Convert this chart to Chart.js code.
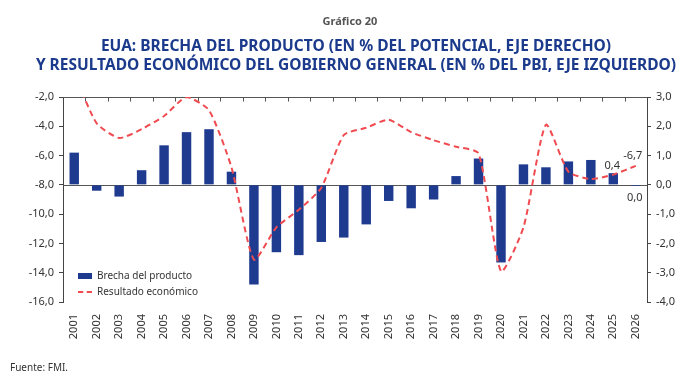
<!DOCTYPE html>
<html>
<head>
<meta charset="utf-8">
<script src="https://cdn.jsdelivr.net/npm/chart.js@4"></script>
<style>
  html, body { margin: 0; padding: 0; background: #fff; }
  #wrap { position: relative; width: 700px; height: 380px; overflow: hidden; }
  #chart { position: absolute; left: 0; top: 0; }
  .t0 { position: absolute; left: 0; width: 700px; top: 13px; text-align: center;
        font: bold 11px "Noto Sans", sans-serif; color: #555; }
  .t1 { position: absolute; left: 6px; width: 700px; text-align: center;
        font: bold 15.5px "Noto Sans", sans-serif; color: #1b3a8c; }
  .legend { position: absolute; left: 78px; font: 10px "Noto Sans", sans-serif; color: #333; }
  .legend span { display: inline-block; vertical-align: middle; margin-right: 5px; }
  .src { position: absolute; left: 10px; top: 360px; font: 10px "Noto Sans", sans-serif; color: #333; }
</style>
</head>
<body>
<div id="wrap">
  <canvas id="chart" width="700" height="380"></canvas>
  <div class="t0">Gráfico 20</div>
  <div class="t1" style="top:34px">EUA: BRECHA DEL PRODUCTO (EN % DEL POTENCIAL, EJE DERECHO)</div>
  <div class="t1" style="top:53px">Y RESULTADO ECONÓMICO DEL GOBIERNO GENERAL (EN % DEL PBI, EJE IZQUIERDO)</div>
  <div class="legend" style="top:268px"><span style="width:14px;height:6px;background:#1e3b8f"></span>Brecha del producto</div>
  <div class="legend" style="top:284px"><span style="width:14px;height:0;border-top:2px dashed #ef4b50"></span>Resultado económico</div>
  <div class="src">Fuente: FMI.</div>
</div>
<script>
const years = ["2001","2002","2003","2004","2005","2006","2007","2008","2009","2010","2011","2012","2013",
               "2014","2015","2016","2017","2018","2019","2020","2021","2022","2023","2024","2025","2026"];
// brecha del producto, % del potencial (eje derecho)
const brecha = [1.1, -0.2, -0.4, 0.5, 1.35, 1.8, 1.9, 0.45, -3.4, -2.3, -2.4, -1.95, -1.8,
                -1.35, -0.55, -0.8, -0.5, 0.3, 0.9, -2.65, 0.7, 0.6, 0.8, 0.85, 0.4, -0.04];
// resultado económico del gobierno general, % del PBI (eje izquierdo)
const resultado = [-0.4, -3.8, -4.8, -4.2, -3.3, -2.0, -2.9, -6.8, -13.1, -10.9, -9.7, -8.2, -4.6,
                   -4.1, -3.55, -4.4, -4.95, -5.4, -5.85, -13.9, -10.9, -3.9, -7.1, -7.6, -7.3, -6.7];
const leftTicks = [-16, -14, -12, -10, -8, -6, -4, -2];
const rightTicks = [-4, -3, -2, -1, 0, 1, 2, 3];

const fmt = v => (Math.round(v * 10) / 10 + 0).toFixed(1).replace(".", ",");

// top border with tick marks, zero line of the right axis, and value labels
const framePlugin = {
  id: "frame",
  beforeDatasetsDraw(chart) {
    const { ctx, chartArea, scales } = chart;
    const y0 = Math.round(scales.y1.getPixelForValue(0)) + 0.5;
    ctx.save();
    ctx.strokeStyle = "#555";
    ctx.lineWidth = 1;
    ctx.beginPath();
    ctx.moveTo(chartArea.left, y0);
    ctx.lineTo(chartArea.right, y0);
    const top = Math.round(chartArea.top) + 0.5;
    ctx.moveTo(chartArea.left, top);
    ctx.lineTo(chartArea.right, top);
    for (let i = 1; i < years.length; i++) {
      const x = Math.round((scales.x.getPixelForValue(i - 1) + scales.x.getPixelForValue(i)) / 2) + 0.5;
      ctx.moveTo(x, top);
      ctx.lineTo(x, top + 4);
    }
    ctx.stroke();
    ctx.restore();
  },
  afterDatasetsDraw(chart) {
    const { ctx } = chart;
    const bars = chart.getDatasetMeta(0).data;
    const line = chart.getDatasetMeta(1).data;
    const n = years.length;
    ctx.save();
    ctx.font = "11px 'Noto Sans', sans-serif";
    ctx.fillStyle = "#333";
    ctx.textAlign = "center";
    ctx.textBaseline = "bottom";
    ctx.fillText(fmt(brecha[n - 2]), bars[n - 2].x - 1, bars[n - 2].y - 2);
    ctx.fillText(fmt(resultado[n - 1]), line[n - 1].x - 3, line[n - 1].y - 4);
    ctx.textBaseline = "top";
    ctx.fillText(fmt(brecha[n - 1]), bars[n - 1].x - 1, bars[n - 1].y + 6);
    ctx.restore();
  }
};

new Chart(document.getElementById("chart"), {
  type: "bar",
  data: {
    labels: years,
    datasets: [
      {
        type: "bar",
        label: "Brecha del producto",
        data: brecha,
        yAxisID: "y1",
        backgroundColor: "#1e3b8f",
        categoryPercentage: 1,
        barPercentage: 0.42,
        order: 2
      },
      {
        type: "line",
        label: "Resultado económico",
        data: resultado,
        yAxisID: "y",
        borderColor: "#ef4b50",
        borderWidth: 2,
        borderDash: [6, 4],
        pointRadius: 0,
        tension: 0.2,
        fill: false,
        order: 1
      }
    ]
  },
  options: {
    responsive: false,
    animation: false,
    layout: { padding: { top: 97, left: 0, right: 0, bottom: 0 } },
    plugins: { legend: { display: false }, title: { display: false }, tooltip: { enabled: false } },
    scales: {
      x: {
        grid: { display: false },
        border: { display: false },
        ticks: {
          color: "#333", font: { family: "Noto Sans", size: 11 },
          minRotation: 90, maxRotation: 90, padding: 4, autoSkip: false
        },
        afterFit(s) { s.height = 78; }
      },
      y: {
        position: "left",
        min: -16, max: -2,
        afterBuildTicks(s) { s.ticks = leftTicks.map(v => ({ value: v })); },
        grid: { drawOnChartArea: false, tickLength: 4, color: "#444" },
        border: { display: true, color: "#444" },
        ticks: { color: "#333", font: { family: "Noto Sans", size: 11 }, padding: 5, callback: v => fmt(v) },
        afterFit(s) { s.width = 63; }
      },
      y1: {
        position: "right",
        min: -4, max: 3,
        afterBuildTicks(s) { s.ticks = rightTicks.map(v => ({ value: v })); },
        grid: { drawOnChartArea: false, tickLength: 4, color: "#444" },
        border: { display: true, color: "#444" },
        ticks: { color: "#333", font: { family: "Noto Sans", size: 11 }, padding: 5, callback: v => fmt(v) },
        afterFit(s) { s.width = 53; }
      }
    }
  },
  plugins: [framePlugin]
});
</script>
</body>
</html>
